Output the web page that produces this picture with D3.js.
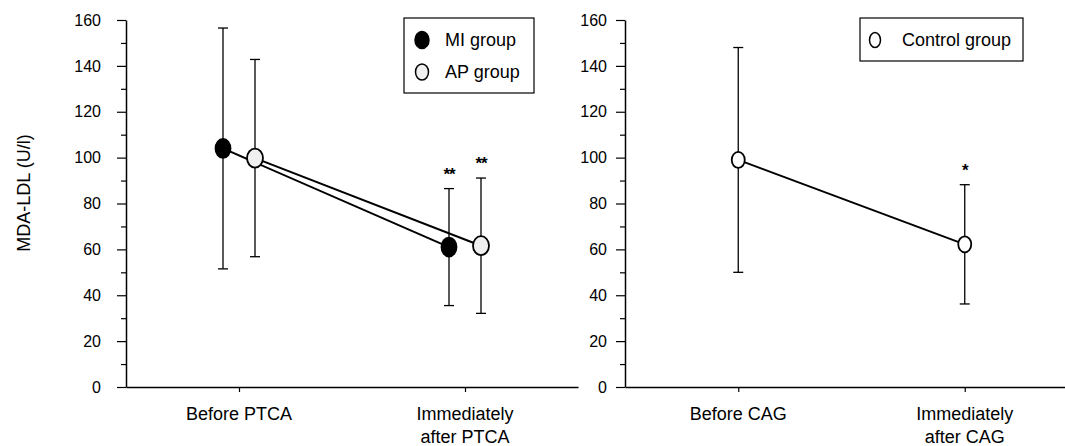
<!DOCTYPE html>
<html>
<head>
<meta charset="utf-8">
<script src="https://cdn.jsdelivr.net/npm/d3@7"></script>
<style>
  body { margin: 0; background: #fff; }
  svg { font-family: "Liberation Sans", Arial, sans-serif; }
</style>
</head>
<body>
<svg id="chart" width="1065" height="446"></svg>
<script>
// categories
let leftCategories = ["Before PTCA", "Immediately after PTCA"];
let rightCategories = ["Before CAG", "Immediately after CAG"];
let leftGroups = ["MI group", "AP group"];
let rightGroups = ["Control group"];

// values (mean and SD, U/l)
let miMean = [104, 61];
let miSD = [52.5, 25.5];
let apMean = [99.8, 61.6];
let apSD = [43, 29.5];
let ctrlMean = [99, 62.2];
let ctrlSD = [49, 26];

// significance marks
let miSig = ["", "**"];
let apSig = ["", "**"];
let ctrlSig = ["", "*"];

let yTicks = [0, 20, 40, 60, 80, 100, 120, 140, 160];
let yMinorTicks = [10, 30, 50, 70, 90, 110, 130, 150];

let svg = d3.select("#chart");

let y = d3.scaleLinear().domain([0, 160]).range([387, 20]);

let drawPanel = (opts) => {
    let g = svg.append("g");

    let x = d3.scalePoint()
        .domain(opts.categories)
        .range([opts.x0, opts.x1])
        .padding(0.5);

    let offset = d3.scalePoint()
        .domain(opts.groups)
        .range(opts.groups.length > 1 ? [-16, 16] : [0, 0]);

    // minor y ticks
    g.append("g")
        .attr("transform", "translate(" + opts.x0 + ",0)")
        .call(d3.axisLeft(y).tickValues(yMinorTicks).tickSize(5).tickSizeOuter(0).tickFormat(""))
        .call(a => a.select(".domain").remove())
        .call(a => a.selectAll("line").attr("stroke", "#000").attr("stroke-width", 1.2));

    // major y ticks
    g.append("g")
        .attr("transform", "translate(" + opts.x0 + ",0)")
        .call(d3.axisLeft(y).tickValues(yTicks).tickSize(9).tickSizeOuter(0).tickPadding(opts.tickPad))
        .call(a => a.select(".domain").attr("stroke", "#000").attr("stroke-width", 1.5))
        .call(a => a.selectAll("line").attr("stroke", "#000").attr("stroke-width", 1.2))
        .call(a => a.selectAll("text").attr("font-size", 16).attr("font-family", "Liberation Sans, Arial, sans-serif").attr("fill", "#000"));

    // x axis
    let xa = g.append("g")
        .attr("transform", "translate(0," + y(0) + ")")
        .call(d3.axisBottom(x).tickSize(5).tickSizeOuter(0).tickFormat(""));
    xa.select(".domain").attr("stroke", "#000").attr("stroke-width", 1.5);
    xa.selectAll("line").attr("stroke", "#000").attr("stroke-width", 1.2);

    opts.categories.forEach(c => {
        let words = c.startsWith("Immediately") ? ["Immediately", c.replace("Immediately ", "")] : [c];
        let t = g.append("text")
            .attr("x", x(c))
            .attr("y", 420)
            .attr("text-anchor", "middle")
            .attr("font-size", 18)
            .attr("fill", "#000");
        words.forEach((w, i) => {
            t.append("tspan").attr("x", x(c)).attr("dy", i === 0 ? 0 : 23).text(w);
        });
    });

    // connecting lines
    let line = d3.line()
        .x(d => d[0])
        .y(d => y(d[1]));

    opts.series.forEach(s => {
        let pts = opts.categories.map((c, i) => [x(c) + offset(s.name), s.mean[i]]);
        g.append("path")
            .datum(pts)
            .attr("fill", "none")
            .attr("stroke", "#000")
            .attr("stroke-width", 2)
            .attr("d", line);
    });

    // error bars
    opts.series.forEach(s => {
        opts.categories.forEach((c, i) => {
            let cx = x(c) + offset(s.name);
            let hi = s.mean[i] + s.sd[i];
            let lo = s.mean[i] - s.sd[i];
            g.append("line")
                .attr("x1", cx).attr("x2", cx)
                .attr("y1", y(hi)).attr("y2", y(lo))
                .attr("stroke", "#000").attr("stroke-width", 1.3);
            [hi, lo].forEach(v => {
                g.append("line")
                    .attr("x1", cx - 5).attr("x2", cx + 5)
                    .attr("y1", y(v)).attr("y2", y(v))
                    .attr("stroke", "#000").attr("stroke-width", 1.3);
            });
            if (s.sig[i]) {
                g.append("text")
                    .attr("x", cx)
                    .attr("y", y(hi) - 9)
                    .attr("text-anchor", "middle")
                    .attr("font-size", 17)
                    .attr("font-weight", "bold")
                    .attr("letter-spacing", -1)
                    .attr("fill", "#000")
                    .text(s.sig[i]);
            }
        });
    });

    // markers
    opts.series.forEach(s => {
        opts.categories.forEach((c, i) => {
            g.append("ellipse")
                .attr("cx", x(c) + offset(s.name))
                .attr("cy", y(s.mean[i]))
                .attr("rx", s.rx).attr("ry", s.ry)
                .attr("fill", s.fill)
                .attr("stroke", "#000")
                .attr("stroke-width", 1.8);
        });
    });

    // legend
    let lg = g.append("g");
    lg.append("rect")
        .attr("x", opts.legend.x).attr("y", opts.legend.y)
        .attr("width", opts.legend.w).attr("height", opts.legend.h)
        .attr("fill", "#fff").attr("stroke", "#000").attr("stroke-width", 1.2);
    opts.series.forEach((s, i) => {
        let ly = opts.legend.y + 22 + i * 32;
        lg.append("ellipse")
            .attr("cx", opts.legend.x + opts.legend.mx)
            .attr("cy", ly)
            .attr("rx", s.lrx).attr("ry", s.lry)
            .attr("fill", s.fill)
            .attr("stroke", "#000")
            .attr("stroke-width", 1.5);
        lg.append("text")
            .attr("x", opts.legend.x + opts.legend.tx)
            .attr("y", ly + 6)
            .attr("font-size", 18)
            .attr("fill", "#000")
            .text(s.name);
    });
};

drawPanel({
    categories: leftCategories,
    groups: leftGroups,
    x0: 126, x1: 578,
    tickPad: 16,
    legend: {x: 404, y: 18, w: 130, h: 75, mx: 18, tx: 41},
    series: [
        {name: leftGroups[0], mean: miMean, sd: miSD, sig: miSig, fill: "#000", rx: 7.5, ry: 9.5, lrx: 7, lry: 8.5},
        {name: leftGroups[1], mean: apMean, sd: apSD, sig: apSig, fill: "#f0f0f0", rx: 8, ry: 9.5, lrx: 6.5, lry: 8}
    ]
});

drawPanel({
    categories: rightCategories,
    groups: rightGroups,
    x0: 625, x1: 1078,
    tickPad: 9,
    legend: {x: 860, y: 18, w: 163, h: 43, mx: 15, tx: 42},
    series: [
        {name: rightGroups[0], mean: ctrlMean, sd: ctrlSD, sig: ctrlSig, fill: "#fff", rx: 6.5, ry: 8, lrx: 5.5, lry: 7.5}
    ]
});

// y axis title
svg.append("text")
    .attr("transform", "translate(30,193) rotate(-90)")
    .attr("text-anchor", "middle")
    .attr("font-size", 18)
    .attr("fill", "#000")
    .text("MDA-LDL (U/l)");
</script>
</body>
</html>
